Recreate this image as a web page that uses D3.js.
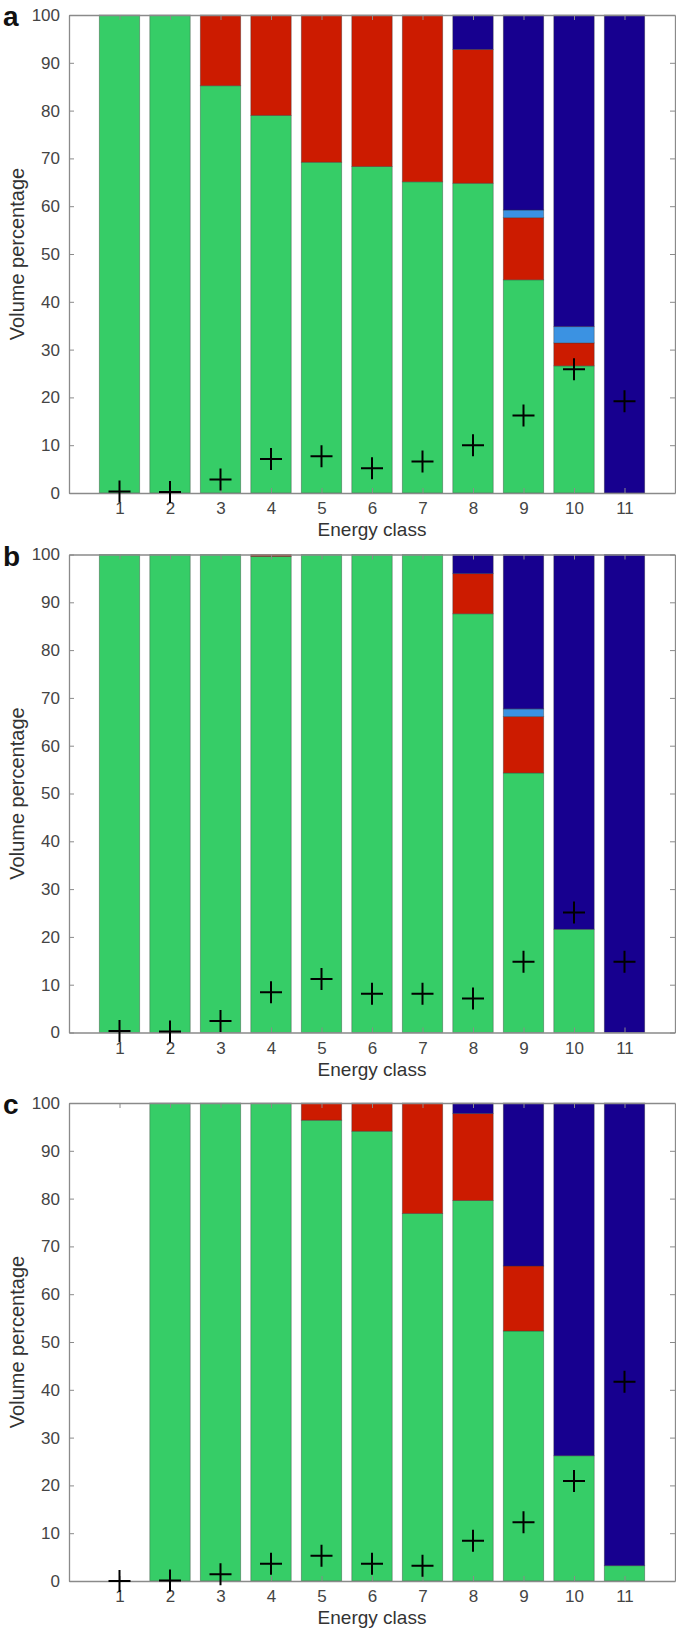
<!DOCTYPE html>
<html>
<head>
<meta charset="utf-8">
<script src="https://cdn.jsdelivr.net/npm/d3@7"></script>
<style>
  body { margin: 0; background: #fff; }
  svg { display: block; font-family: Arial, "Liberation Sans", sans-serif; }
</style>
</head>
<body>
<svg id="chart" width="676" height="1630"></svg>
<script>
// --- Data ---
const energyClasses = [1, 2, 3, 4, 5, 6, 7, 8, 9, 10, 11];
const yTicks = [0, 10, 20, 30, 40, 50, 60, 70, 80, 90, 100];
const panelLetters = ['a', 'b', 'c'];

// panel a
const greenA = [100, 100, 85.2, 79.0, 69.2, 68.3, 65.1, 64.8, 44.6, 26.6, 0];
const redA = [0, 0, 14.8, 21.0, 30.8, 31.7, 34.9, 28.0, 13.0, 4.8, 0];
const lightA = [0, 0, 0, 0, 0, 0, 0, 0, 1.6, 3.4, 0];
const navyA = [0, 0, 0, 0, 0, 0, 0, 7.2, 40.8, 65.2, 100];
const plusA = [0.3, 0.2, 2.8, 7.1, 7.7, 5.2, 6.6, 10.0, 16.2, 25.9, 19.2];

// panel b
const greenB = [100, 100, 100, 99.6, 100, 100, 100, 87.6, 54.3, 21.6, 0];
const redB = [0, 0, 0, 0.4, 0, 0, 0, 8.4, 11.8, 0, 0];
const lightB = [0, 0, 0, 0, 0, 0, 0, 0, 1.6, 0, 0];
const navyB = [0, 0, 0, 0, 0, 0, 0, 4.0, 32.3, 78.4, 100];
const plusB = [0.3, 0.2, 2.4, 8.4, 11.2, 8.1, 8.1, 7.1, 14.8, 25.1, 14.8];

// panel c
const greenC = [0, 100, 100, 100, 96.4, 94.1, 76.9, 79.6, 52.3, 26.2, 3.2];
const redC = [0, 0, 0, 0, 3.6, 5.9, 23.1, 18.2, 13.6, 0, 0];
const lightC = [0, 0, 0, 0, 0, 0, 0, 0, 0, 0, 0];
const navyC = [0, 0, 0, 0, 0, 0, 0, 2.2, 34.1, 73.8, 96.8];
const plusC = [0, 0.1, 1.4, 3.6, 5.3, 3.6, 3.2, 8.4, 12.3, 20.9, 41.7];

const panels = [
    { letter: panelLetters[0], series: [greenA, redA, lightA, navyA], plus: plusA },
    { letter: panelLetters[1], series: [greenB, redB, lightB, navyB], plus: plusB },
    { letter: panelLetters[2], series: [greenC, redC, lightC, navyC], plus: plusC }
];

// --- Layout ---
const keys = ['green', 'red', 'light', 'navy'];
const colors = { green: '#36cd67', red: '#cc1b00', light: '#3b92e2', navy: '#17008f' };
const left = 69, right = 675, plotH = 478;
const panelTops = [15, 554.5, 1103];

const svg = d3.select('#chart');
const x = d3.scaleLinear().domain([0, 12]).range([left, right]);
const barW = (x(1) - x(0)) * 0.8;

panels.forEach((p, i) => {
    const top = panelTops[i];
    const y = d3.scaleLinear().domain([0, 100]).range([top + plotH, top]);
    const g = svg.append('g');

    // stacked bars
    const rows = energyClasses.map((c, j) => ({
        cls: c,
        green: p.series[0][j], red: p.series[1][j], light: p.series[2][j], navy: p.series[3][j]
    }));
    const stacked = d3.stack().keys(keys)(rows);

    g.selectAll('g.layer')
        .data(stacked)
        .enter().append('g')
        .attr('class', 'layer')
        .attr('fill', d => colors[d.key])
        .selectAll('rect')
        .data(d => d.filter(s => s[1] - s[0] > 0))
        .enter().append('rect')
        .attr('x', d => x(d.data.cls) - barW / 2)
        .attr('width', barW)
        .attr('y', d => y(d[1]))
        .attr('height', d => y(d[0]) - y(d[1]))
        .attr('stroke', '#333')
        .attr('stroke-opacity', 0.45)
        .attr('stroke-width', 0.8);

    // axes box with inward ticks
    const axL = d3.axisLeft(y).tickValues(yTicks).tickSizeInner(-5).tickSizeOuter(0).tickPadding(9);
    const axR = d3.axisRight(y).tickValues(yTicks).tickSizeInner(-5).tickSizeOuter(0).tickFormat('');
    const axB = d3.axisBottom(x).tickValues(energyClasses).tickSizeInner(-5).tickSizeOuter(0).tickPadding(9);
    const axT = d3.axisTop(x).tickValues(energyClasses).tickSizeInner(-5).tickSizeOuter(0).tickFormat('');

    g.append('g').attr('transform', `translate(${left},0)`).call(axL);
    g.append('g').attr('transform', `translate(${right},0)`).call(axR);
    g.append('g').attr('transform', `translate(0,${top + plotH})`).call(axB);
    g.append('g').attr('transform', `translate(0,${top})`).call(axT);

    g.selectAll('.domain').attr('stroke', '#8a8a8a').attr('stroke-width', 1.3);
    g.selectAll('.tick line').attr('stroke', '#8a8a8a');
    g.selectAll('.tick text')
        .attr('fill', '#444')
        .attr('font-size', 17)
        .attr('font-family', 'Arial, "Liberation Sans", sans-serif');

    // plus markers
    g.selectAll('path.plus')
        .data(p.plus)
        .enter().append('path')
        .attr('class', 'plus')
        .attr('d', (v, j) => {
            const cx = x(energyClasses[j]), cy = y(v), h = 11;
            return `M${cx - h},${cy}H${cx + h}M${cx},${cy - h}V${cy + h}`;
        })
        .attr('stroke', '#000')
        .attr('stroke-width', 2);

    // labels
    g.append('text')
        .attr('x', 3)
        .attr('y', top + 11)
        .attr('font-size', 28)
        .attr('font-weight', 'bold')
        .attr('fill', '#111')
        .text(p.letter);

    g.append('text')
        .attr('transform', `translate(24,${top + plotH / 2}) rotate(-90)`)
        .attr('text-anchor', 'middle')
        .attr('font-size', 20)
        .attr('fill', '#333')
        .text('Volume percentage');

    g.append('text')
        .attr('x', (left + right) / 2)
        .attr('y', top + plotH + 43)
        .attr('text-anchor', 'middle')
        .attr('font-size', 19)
        .attr('fill', '#333')
        .text('Energy class');
});
</script>
</body>
</html>
